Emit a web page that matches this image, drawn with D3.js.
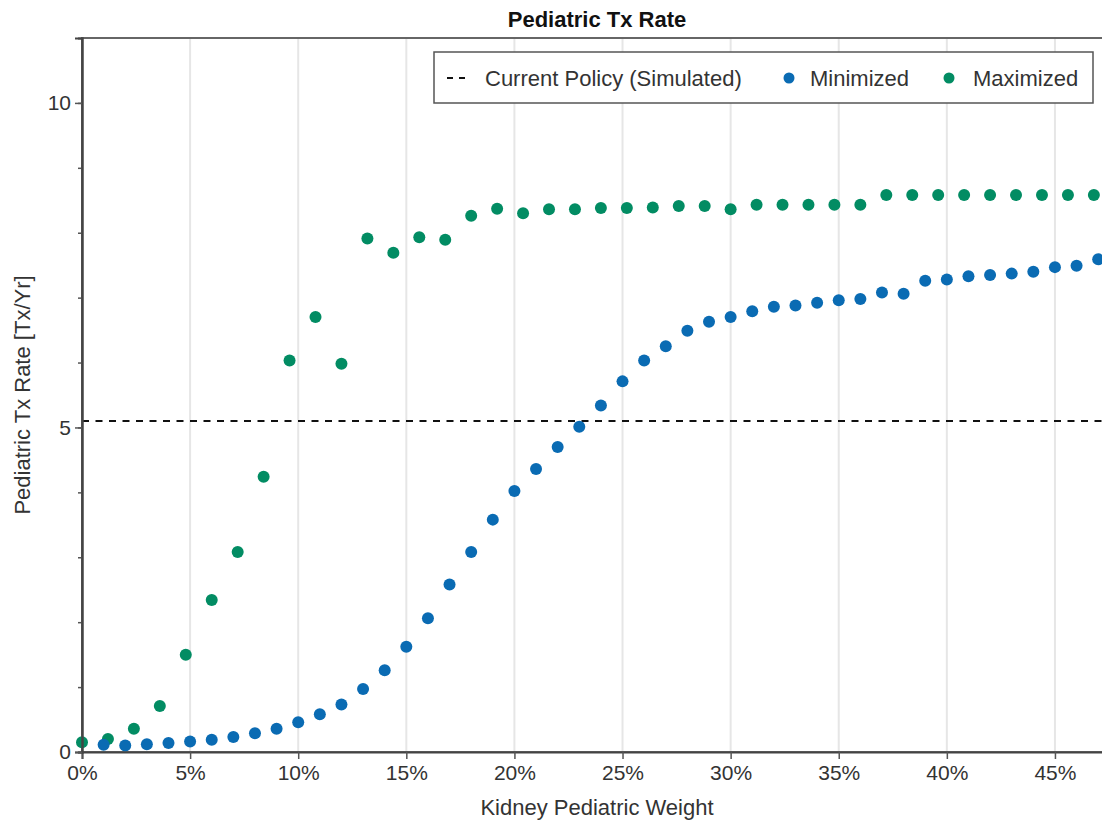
<!DOCTYPE html>
<html>
<head>
<meta charset="utf-8">
<script src="https://cdn.jsdelivr.net/npm/d3@7"></script>
<style>
  body { margin: 0; background: #fff; }
  text { font-family: "Liberation Sans", Arial, sans-serif; }
</style>
</head>
<body>
<div class="chart"></div>
<script>
// kidney pediatric weight (x) for each series
var minimizedWeights = [0.01, 0.02, 0.03, 0.04, 0.05, 0.06, 0.07, 0.08, 0.09, 0.10,
    0.11, 0.12, 0.13, 0.14, 0.15, 0.16, 0.17, 0.18, 0.19, 0.20,
    0.21, 0.22, 0.23, 0.24, 0.25, 0.26, 0.27, 0.28, 0.29, 0.30,
    0.31, 0.32, 0.33, 0.34, 0.35, 0.36, 0.37, 0.38, 0.39, 0.40,
    0.41, 0.42, 0.43, 0.44, 0.45, 0.46, 0.47];
var minimizedRates = [0.11, 0.10, 0.12, 0.14, 0.16, 0.19, 0.23, 0.29, 0.36, 0.46,
    0.58, 0.73, 0.97, 1.26, 1.62, 2.06, 2.58, 3.08, 3.58, 4.02,
    4.36, 4.70, 5.01, 5.34, 5.71, 6.03, 6.25, 6.49, 6.63, 6.70,
    6.79, 6.86, 6.88, 6.92, 6.96, 6.98, 7.08, 7.06, 7.26, 7.28,
    7.33, 7.35, 7.37, 7.40, 7.47, 7.49, 7.59];

var maximizedWeights = [0, 0.012, 0.024, 0.036, 0.048, 0.060, 0.072, 0.084, 0.096, 0.108,
    0.120, 0.132, 0.144, 0.156, 0.168, 0.180, 0.192, 0.204, 0.216, 0.228,
    0.240, 0.252, 0.264, 0.276, 0.288, 0.300, 0.312, 0.324, 0.336, 0.348,
    0.360, 0.372, 0.384, 0.396, 0.408, 0.420, 0.432, 0.444, 0.456, 0.468];
var maximizedRates = [0.15, 0.20, 0.36, 0.71, 1.50, 2.34, 3.08, 4.24, 6.03, 6.70,
    5.98, 7.91, 7.69, 7.93, 7.89, 8.26, 8.37, 8.30, 8.36, 8.36,
    8.38, 8.38, 8.39, 8.41, 8.41, 8.36, 8.43, 8.43, 8.43, 8.43,
    8.43, 8.58, 8.58, 8.58, 8.58, 8.58, 8.58, 8.58, 8.58, 8.58];

var currentPolicy = 5.1;

var xTicks = [0, 0.05, 0.10, 0.15, 0.20, 0.25, 0.30, 0.35, 0.40, 0.45];
var yTicks = [0, 5, 10];
var yMinorTicks = [0, 1, 2, 3, 4, 5, 6, 7, 8, 9, 10];

var legendLabels = ["Current Policy (Simulated)", "Minimized", "Maximized"];

var blue = "#0a6bb3",
    green = "#028c63";

var svgWidth = 1102,
    svgHeight = 823,
    margin = { top: 38, right: -7, bottom: 71, left: 82 },
    width = svgWidth - margin.left - margin.right,
    height = svgHeight - margin.top - margin.bottom;

var svg = d3.select(".chart")
    .append("svg")
    .attr("width", svgWidth)
    .attr("height", svgHeight);

var x = d3.scaleLinear().domain([0, 0.475]).range([margin.left, margin.left + width]),
    y = d3.scaleLinear().domain([0, 11]).range([margin.top + height, margin.top]);

// vertical grid lines
svg.append("g")
    .selectAll("line")
    .data(xTicks.filter(function(d) { return d > 0; }))
    .enter().append("line")
    .attr("x1", function(d) { return x(d); })
    .attr("x2", function(d) { return x(d); })
    .attr("y1", margin.top)
    .attr("y2", margin.top + height)
    .attr("stroke", "#e6e6e6")
    .attr("stroke-width", 2);

// frame (top / right)
svg.append("rect")
    .attr("x", margin.left)
    .attr("y", margin.top)
    .attr("width", width)
    .attr("height", height)
    .attr("fill", "none")
    .attr("stroke", "#666")
    .attr("stroke-width", 2);

// current policy
svg.append("line")
    .attr("x1", margin.left)
    .attr("x2", margin.left + width)
    .attr("y1", y(currentPolicy))
    .attr("y2", y(currentPolicy))
    .attr("stroke", "#111")
    .attr("stroke-width", 2)
    .attr("stroke-dasharray", "7,6.5");

// points: maximized first so minimized sits on top
svg.append("g")
    .selectAll("circle")
    .data(maximizedRates)
    .enter().append("circle")
    .attr("cx", function(d, i) { return x(maximizedWeights[i]); })
    .attr("cy", function(d) { return y(d); })
    .attr("r", 6)
    .attr("fill", green);

svg.append("g")
    .selectAll("circle")
    .data(minimizedRates)
    .enter().append("circle")
    .attr("cx", function(d, i) { return x(minimizedWeights[i]); })
    .attr("cy", function(d) { return y(d); })
    .attr("r", 6)
    .attr("fill", blue);

// axes
var xAxis = d3.axisBottom(x).tickValues(xTicks).tickFormat(d3.format(".0%")).tickSize(7).tickPadding(6),
    yAxis = d3.axisLeft(y).tickValues(yTicks).tickFormat(d3.format("d")).tickSize(7).tickPadding(4),
    yMinor = d3.axisLeft(y).tickValues(yMinorTicks).tickFormat("").tickSize(4);

var gx = svg.append("g")
    .attr("transform", "translate(0," + (margin.top + height) + ")")
    .call(xAxis);
var gyMinor = svg.append("g")
    .attr("transform", "translate(" + margin.left + ",0)")
    .call(yMinor);
var gy = svg.append("g")
    .attr("transform", "translate(" + margin.left + ",0)")
    .call(yAxis);

[gx, gy, gyMinor].forEach(function(g) {
    g.select(".domain").attr("stroke", "#444").attr("stroke-width", 2);
    g.selectAll(".tick line").attr("stroke", "#555").attr("stroke-width", 1.5);
    g.selectAll(".tick text")
        .attr("fill", "#333")
        .style("font-size", "21px")
        .style("font-family", "'Liberation Sans', Arial, sans-serif");
});

// title and axis labels
svg.append("text")
    .attr("x", 597)
    .attr("y", 27)
    .attr("text-anchor", "middle")
    .style("font-size", "22px")
    .style("font-weight", "bold")
    .attr("fill", "#111")
    .text("Pediatric Tx Rate");

svg.append("text")
    .attr("x", 597)
    .attr("y", 815)
    .attr("text-anchor", "middle")
    .style("font-size", "22px")
    .attr("fill", "#333")
    .text("Kidney Pediatric Weight");

svg.append("text")
    .attr("transform", "translate(30," + (margin.top + height / 2) + ") rotate(-90)")
    .attr("text-anchor", "middle")
    .style("font-size", "22px")
    .attr("fill", "#333")
    .text("Pediatric Tx Rate [Tx/Yr]");

// legend
var legend = svg.append("g").attr("transform", "translate(434,52)");
legend.append("rect")
    .attr("width", 659)
    .attr("height", 51)
    .attr("fill", "#fff")
    .attr("stroke", "#555")
    .attr("stroke-width", 1.5);

legend.append("line")
    .attr("x1", 13).attr("x2", 31)
    .attr("y1", 26).attr("y2", 26)
    .attr("stroke", "#111")
    .attr("stroke-width", 2)
    .attr("stroke-dasharray", "6,6");

var legendItems = [
    { label: legendLabels[0], tx: 51 },
    { label: legendLabels[1], tx: 376, color: blue, cx: 355 },
    { label: legendLabels[2], tx: 539, color: green, cx: 515 }
];

legendItems.forEach(function(d) {
    if (d.color) {
        legend.append("circle")
            .attr("cx", d.cx)
            .attr("cy", 26)
            .attr("r", 5.5)
            .attr("fill", d.color);
    }
    legend.append("text")
        .attr("x", d.tx)
        .attr("y", 26)
        .attr("dy", "0.35em")
        .style("font-size", "22px")
        .attr("fill", "#333")
        .text(d.label);
});
</script>
</body>
</html>
